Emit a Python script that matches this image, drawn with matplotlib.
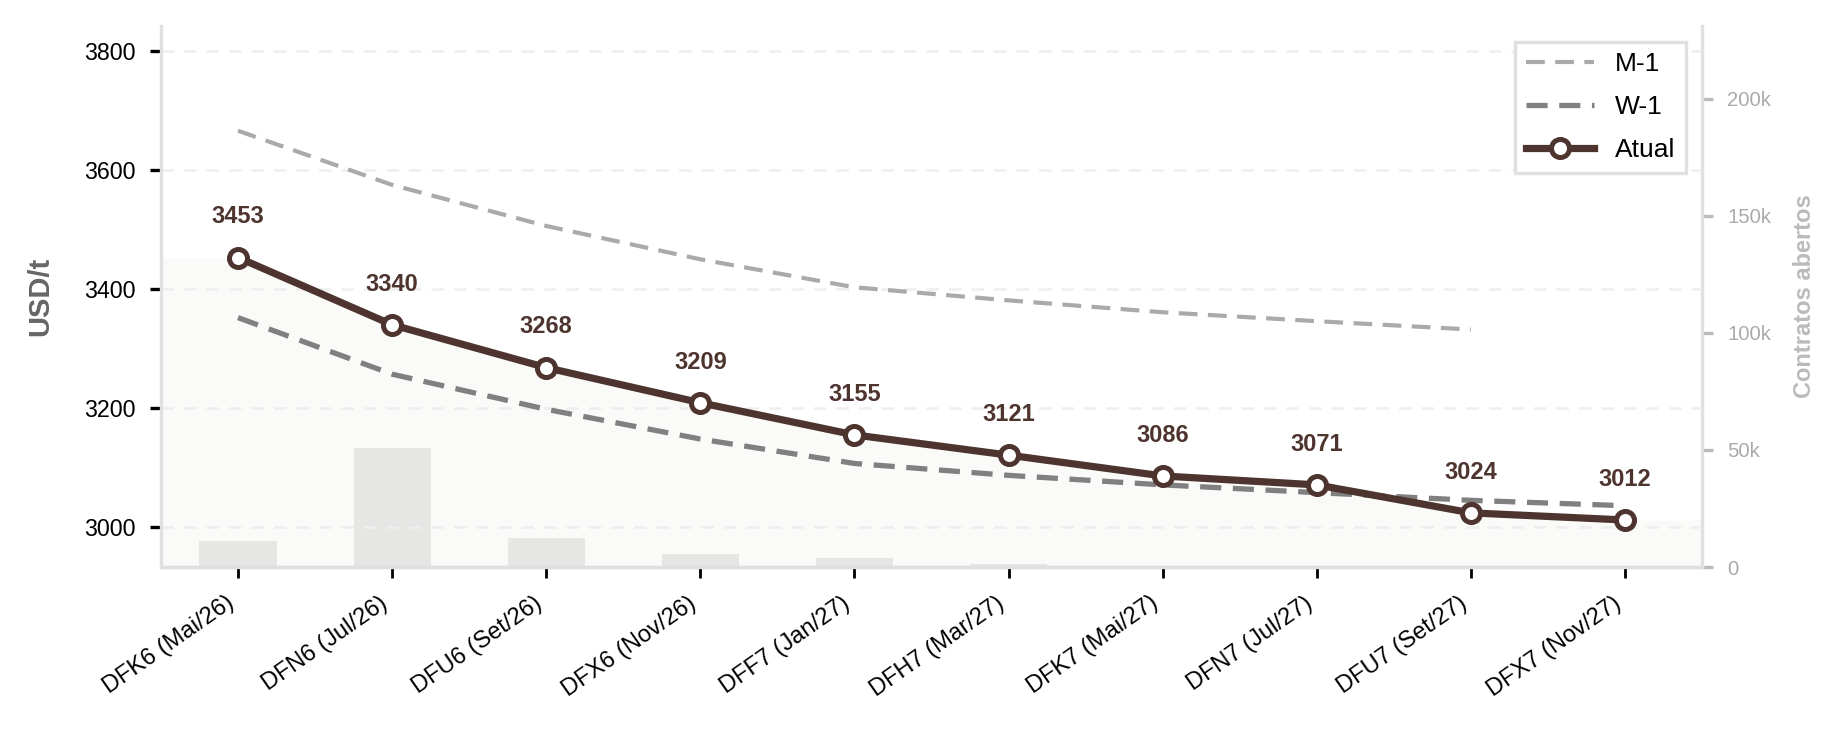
import numpy as np
import matplotlib as mpl
mpl.use("Agg")
import matplotlib.pyplot as plt
import matplotlib.ticker as mticker

plt.rcParams['font.family'] = ['Liberation Sans', 'DejaVu Sans']

# contracts and prices (USD/t)
contracts = ['DFK6 (Mai/26)', 'DFN6 (Jul/26)', 'DFU6 (Set/26)', 'DFX6 (Nov/26)', 'DFF7 (Jan/27)',
             'DFH7 (Mar/27)', 'DFK7 (Mai/27)', 'DFN7 (Jul/27)', 'DFU7 (Set/27)', 'DFX7 (Nov/27)']
atual = [3453, 3340, 3268, 3209, 3155, 3121, 3086, 3071, 3024, 3012]
w1 = [3352, 3257, 3198, 3148, 3107, 3087, 3071, 3058, 3045, 3036]
m1 = [3666, 3575, 3506, 3450, 3403, 3381, 3361, 3346, 3332, np.nan]
open_int = [11000, 51000, 12600, 5500, 4000, 1500, 300, 200, 100, 50]

brown = '#4e342e'
x = np.arange(len(contracts))

fig = plt.figure(figsize=(9.23, 3.67), dpi=200)
ax = fig.add_axes([0.0872, 0.2275, 0.8348, 0.7371])
ax2 = ax.twinx()
ax.set_zorder(ax2.get_zorder() + 1)
ax.patch.set_visible(False)

# open interest bars on the right axis
ax2.bar(x, open_int, width=0.5, color='#e6e6e6', zorder=1)
ax2.set_ylim(0, 231000)
ax2.yaxis.set_major_locator(mticker.MultipleLocator(50000))
ax2.yaxis.set_major_formatter(mticker.FuncFormatter(lambda v, p: '0' if v == 0 else '%dk' % (v / 1000)))
ax2.tick_params(axis='y', colors='#bbbbbb', labelsize=7.3, length=4, width=1.2, pad=5, labelcolor='#aaaaaa')
ax2.set_ylabel('Contratos abertos', color='#bbbbbb', fontsize=8.5, fontweight='bold', labelpad=8)

xlim = (-0.5, len(contracts) - 0.5)
ylim = (2933, 3842)

# light fill under the current curve
fx = np.r_[xlim[0], x, xlim[1]]
fy = np.r_[atual[0], atual, atual[-1]]
ax.fill_between(fx, fy, ylim[0], color='#e9e6df', alpha=0.2, lw=0, zorder=0)

ax.plot(x, m1, color='#aaaaaa', lw=1.5, ls=(0, (4.5, 2.5)), label='M-1', zorder=2)
ax.plot(x, w1, color='#808080', lw=1.9, ls=(0, (4, 2.2)), label='W-1', zorder=2)
ax.plot(x, atual, color=brown, lw=2.6, marker='o', markersize=6.5, markerfacecolor='white',
        markeredgecolor=brown, markeredgewidth=1.8, label='Atual', zorder=3)

for xi, v in zip(x, atual):
    ax.annotate(str(v), (xi, v), xytext=(0, 10.5), textcoords='offset points', ha='center', va='bottom',
                fontsize=8.5, fontweight='bold', color=brown)

ax.set_xlim(xlim)
ax.set_ylim(ylim)
ax2.set_xlim(xlim)
ax.yaxis.set_major_locator(mticker.MultipleLocator(200))
ax.grid(axis='y', color='#eeeeee', ls=(0, (5, 4)), lw=0.9)
ax.set_xticks(x)
ax.set_xticklabels(contracts, rotation=35, ha='right', fontsize=8.5)
ax.tick_params(axis='y', labelsize=8.4, length=4, width=1.2, pad=5)
ax.tick_params(axis='x', length=4, width=1, pad=5)
ax.set_ylabel('USD/t', color='#666666', fontsize=10.5, fontweight='bold', labelpad=11)

for a in (ax, ax2):
    a.spines['top'].set_visible(False)
    for s in ('left', 'right', 'bottom'):
        a.spines[s].set_color('#e0e0e0')
        a.spines[s].set_linewidth(1.2)
ax.spines['right'].set_visible(False)
ax2.spines['left'].set_visible(False)

leg = ax.legend(loc='upper right', fontsize=9.5, fancybox=False, framealpha=1, edgecolor='#e0e0e0',
                handlelength=2.6, labelspacing=0.72, borderaxespad=0.6)
leg.get_frame().set_linewidth(1.2)

plt.savefig('out.png')
